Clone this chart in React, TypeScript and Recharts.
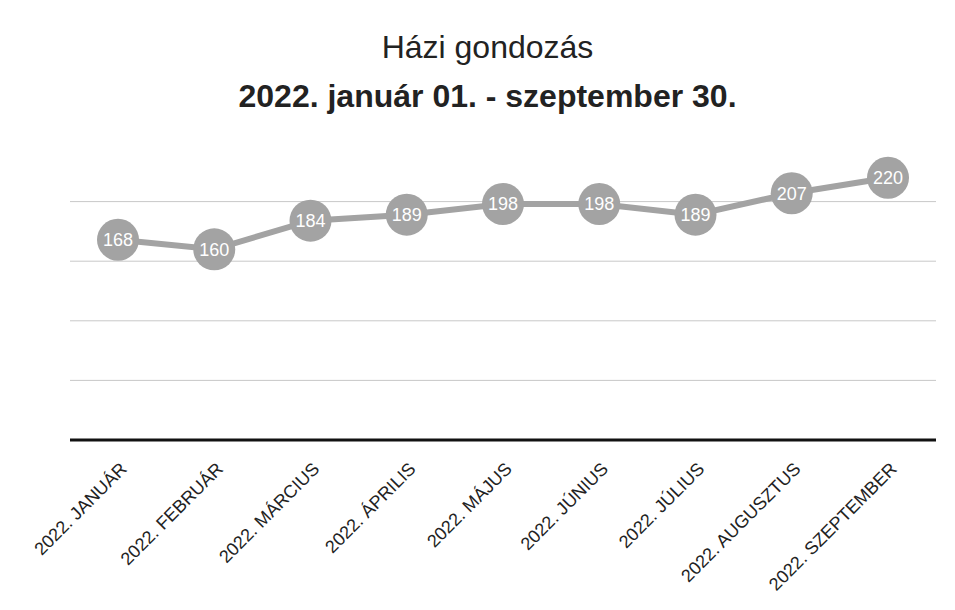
import React from 'react';
import { LineChart, Line, XAxis, YAxis, CartesianGrid, LabelList } from 'recharts';

const months = [
  '2022. JANUÁR',
  '2022. FEBRUÁR',
  '2022. MÁRCIUS',
  '2022. ÁPRILIS',
  '2022. MÁJUS',
  '2022. JÚNIUS',
  '2022. JÚLIUS',
  '2022. AUGUSZTUS',
  '2022. SZEPTEMBER',
];
const clients = [168, 160, 184, 189, 198, 198, 189, 207, 220];
const yMax = 250;
const gridTicks = [0, 50, 100, 150, 200];

const data = months.map((month, i) => ({ month, value: clients[i] }));

const FONT = '"Liberation Sans", Arial, sans-serif';
const GRAY = '#a3a3a3';

// rotated category label, end of text sits just under the axis
const MonthTick = ({ x, y, payload }: any) => (
  <g transform={`translate(${x + 10},${y + 30})`}>
    <text transform="rotate(-45)" textAnchor="end" fill="#222" fontSize={18} fontFamily={FONT}>
      {payload.value}
    </text>
  </g>
);

const Marker = ({ cx, cy, index }: any) => (
  <circle key={`m-${index}`} cx={cx} cy={cy} r={21} fill={GRAY} stroke="none" />
);

// gridlines only up to 200, no line at the top of the plot
const gridRows = ({ offset }: any) =>
  gridTicks.map((t) => offset.top + offset.height * (1 - t / yMax));

const App = () => {
  return (
    <div
      style={{
        position: 'absolute',
        left: 0,
        top: 0,
        width: 955,
        height: 610,
        background: '#fff',
        fontFamily: FONT,
      }}
    >
      {/* Title */}
      <div
        style={{
          position: 'absolute',
          top: 31,
          left: 20,
          width: 935,
          textAlign: 'center',
          fontSize: 32,
          lineHeight: '32px',
          color: '#222',
        }}
      >
        Házi gondozás
      </div>
      <div
        style={{
          position: 'absolute',
          top: 80,
          left: 20,
          width: 935,
          textAlign: 'center',
          fontSize: 32,
          fontWeight: 'bold',
          lineHeight: '32px',
          color: '#222',
        }}
      >
        2022. január 01. - szeptember 30.
      </div>

      <LineChart
        width={955}
        height={610}
        data={data}
        margin={{ top: 142, right: 19, bottom: 0, left: 70 }}
      >
        <CartesianGrid
          vertical={false}
          stroke="#c8c8c8"
          strokeWidth={1}
          horizontalCoordinatesGenerator={gridRows}
        />
        <XAxis
          dataKey="month"
          height={170}
          interval={0}
          padding={{ left: 48, right: 48 }}
          tickLine={false}
          tickSize={0}
          tickMargin={0}
          axisLine={{ stroke: '#111', strokeWidth: 3 }}
          tick={<MonthTick />}
        />
        <YAxis hide domain={[0, yMax]} ticks={gridTicks} />
        <Line
          type="linear"
          dataKey="value"
          stroke={GRAY}
          strokeWidth={6}
          dot={<Marker />}
          activeDot={false}
          isAnimationActive={false}
        >
          <LabelList
            dataKey="value"
            position="center"
            fill="#fff"
            fontSize={18}
            fontFamily={FONT}
          />
        </Line>
      </LineChart>
    </div>
  );
};

export default App;
